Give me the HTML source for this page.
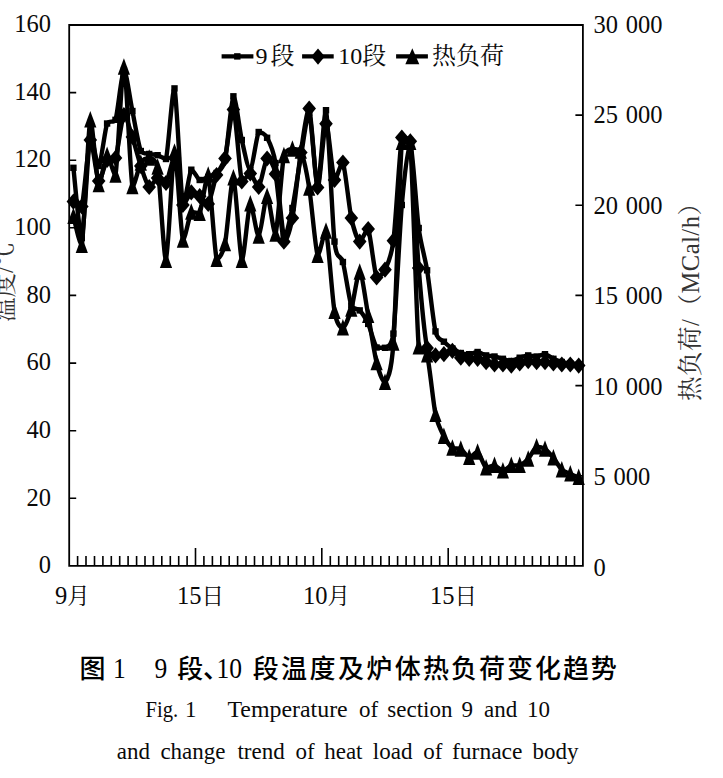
<!DOCTYPE html>
<html lang="zh"><head><meta charset="utf-8"><title>图1 9段、10段温度及炉体热负荷变化趋势</title>
<style>html,body{margin:0;padding:0;background:#fff}body{width:723px;height:778px;overflow:hidden}svg{display:block}svg{font-family:'Liberation Serif','Noto Serif CJK SC',serif;fill:#0a0a0a}.cap{font-family:'Liberation Sans','Noto Sans CJK SC',sans-serif;font-weight:500;fill:#000}.ttl{fill:#333}</style></head><body>
<svg width="723" height="778" viewBox="0 0 723 778">
<rect width="723" height="778" fill="#fff"/>
<g stroke="#000" stroke-width="1.8" fill="none" stroke-linecap="square">
<path d="M69.2 25.0H582.9V565.9H69.2Z"/>
</g>
<g stroke="#000" stroke-width="1.6" fill="none">
<path d="M69.2 498.3h7M69.2 430.7h7M69.2 363.1h7M69.2 295.4h7M69.2 227.8h7M69.2 160.2h7M69.2 92.6h7M582.9 475.8h-7.5M582.9 385.6h-7.5M582.9 295.4h-7.5M582.9 205.3h-7.5M582.9 115.1h-7.5M77.6 565.9v-10M86.0 565.9v-10M94.5 565.9v-10M102.9 565.9v-10M111.3 565.9v-10M119.7 565.9v-10M128.1 565.9v-10M136.6 565.9v-10M145.0 565.9v-10M153.4 565.9v-10M161.8 565.9v-10M170.3 565.9v-10M178.7 565.9v-10M187.1 565.9v-10M195.5 565.9v-18M203.9 565.9v-10M212.4 565.9v-10M220.8 565.9v-10M229.2 565.9v-10M237.6 565.9v-10M246.0 565.9v-10M254.5 565.9v-10M262.9 565.9v-10M271.3 565.9v-10M279.7 565.9v-10M288.2 565.9v-10M296.6 565.9v-10M305.0 565.9v-10M313.4 565.9v-10M321.8 565.9v-18M330.3 565.9v-10M338.7 565.9v-10M347.1 565.9v-10M355.5 565.9v-10M363.9 565.9v-10M372.4 565.9v-10M380.8 565.9v-10M389.2 565.9v-10M397.6 565.9v-10M406.1 565.9v-10M414.5 565.9v-10M422.9 565.9v-10M431.3 565.9v-10M439.7 565.9v-10M448.2 565.9v-18M456.6 565.9v-10M465.0 565.9v-10M473.4 565.9v-10M481.8 565.9v-10M490.3 565.9v-10M498.7 565.9v-10M507.1 565.9v-10M515.5 565.9v-10M524.0 565.9v-10M532.4 565.9v-10M540.8 565.9v-10M549.2 565.9v-10M557.6 565.9v-10M566.1 565.9v-10M574.5 565.9v-10"/>
</g>
<g fill="none" stroke="#000" stroke-width="4.4" stroke-linejoin="round" stroke-linecap="round">
<path d="M73.4 167.8C74.5 177.2 79.6 238.0 81.8 238.0C84.1 233.6 88.0 144.6 90.3 135.0C92.5 135.0 96.4 166.0 98.7 166.0C100.9 164.5 104.9 129.7 107.1 123.5C109.3 119.8 113.3 123.5 115.5 119.8C117.8 112.7 121.7 71.2 123.9 70.0C126.2 70.0 130.1 100.2 132.4 111.0C134.6 121.8 138.5 145.3 140.8 151.0C143.0 154.0 147.0 153.4 149.2 154.0C151.4 154.6 155.4 154.5 157.6 155.2C159.9 155.9 163.8 159.0 166.0 159.0C168.3 150.1 172.2 88.4 174.5 88.4C176.7 94.5 180.6 194.2 182.9 205.0C185.1 205.0 189.1 173.0 191.3 169.7C193.6 169.7 197.5 179.0 199.7 180.0C202.0 180.0 205.9 177.9 208.2 177.0C210.4 176.1 214.3 175.3 216.6 173.0C218.8 170.7 222.7 170.2 225.0 160.0C227.2 149.8 231.2 99.0 233.4 96.3C235.7 96.3 239.6 130.2 241.8 140.0C244.1 149.8 248.0 170.0 250.3 170.0C252.5 168.9 256.4 136.3 258.7 132.0C260.9 132.0 264.9 133.7 267.1 137.8C269.3 141.9 273.3 149.9 275.5 163.0C277.8 176.1 281.7 230.0 283.9 236.0C286.2 236.0 290.1 218.5 292.4 208.0C294.6 197.5 298.5 169.7 300.8 157.0C303.0 144.3 307.0 113.0 309.2 113.0C311.5 116.9 315.4 186.0 317.6 186.0C319.9 185.6 323.8 110.2 326.0 110.2C328.3 117.6 332.2 221.4 334.5 241.6C336.7 261.8 340.6 253.5 342.9 262.0C345.1 270.5 349.1 299.0 351.3 305.5C353.6 310.4 357.5 307.9 359.7 310.4C362.0 312.9 365.9 319.0 368.2 323.9C370.4 328.8 374.3 344.3 376.6 347.5C378.8 347.8 382.8 347.8 385.0 347.8C387.2 345.9 391.2 347.8 393.4 333.6C395.7 314.6 399.6 230.4 401.8 205.0C404.1 179.6 408.0 143.0 410.3 143.0C412.5 146.1 416.4 211.0 418.7 228.0C420.9 245.0 424.9 256.5 427.1 270.3C429.4 284.1 433.3 321.9 435.5 331.4C437.8 340.9 441.7 339.4 443.9 341.7C446.2 344.0 450.1 347.0 452.4 348.5C454.6 350.0 458.5 352.2 460.8 353.0C463.0 353.8 467.0 354.2 469.2 354.2C471.5 354.1 475.4 352.0 477.6 352.0C479.9 352.2 483.8 354.8 486.1 355.4C488.3 356.0 492.2 356.0 494.5 356.5C496.7 357.0 500.7 358.2 502.9 358.8C505.1 359.4 509.1 361.0 511.3 361.0C513.6 360.9 517.5 358.4 519.7 357.7C522.0 357.0 525.9 355.6 528.2 355.4C530.4 355.4 534.3 356.5 536.6 356.5C538.8 356.3 542.8 354.2 545.0 354.2C547.2 354.5 551.2 357.8 553.4 358.8C555.7 359.8 559.6 361.4 561.8 362.0C564.1 362.6 568.0 363.1 570.3 363.4C572.5 363.7 577.6 364.4 578.7 364.5"/>
<path d="M73.4 201.6C74.5 202.3 79.6 206.5 81.8 206.5C84.1 198.3 88.0 143.4 90.3 140.0C92.5 140.0 96.4 178.3 98.7 181.0C100.9 181.0 104.9 163.1 107.1 160.0C109.3 158.0 113.3 160.0 115.5 158.0C117.8 152.0 121.7 117.8 123.9 115.0C126.2 115.0 130.1 130.2 132.4 137.0C134.6 143.8 138.5 159.3 140.8 166.0C143.0 172.7 147.0 185.4 149.2 187.0C151.4 187.0 155.4 178.5 157.6 178.0C159.9 178.0 163.8 183.0 166.0 183.0C168.3 180.3 172.2 158.0 174.5 158.0C176.7 160.9 180.6 200.4 182.9 205.0C185.1 205.0 189.1 193.5 191.3 192.3C193.6 192.3 197.5 194.7 199.7 196.2C202.0 197.7 205.9 203.9 208.2 203.9C210.4 201.1 214.3 181.1 216.6 175.0C218.8 168.9 222.7 167.1 225.0 158.4C227.2 149.7 231.2 109.5 233.4 109.5C235.7 112.6 239.6 173.0 241.8 181.5C244.1 181.5 248.0 173.5 250.3 173.5C252.5 174.2 256.4 187.0 258.7 187.0C260.9 185.0 264.9 160.2 267.1 158.5C269.3 158.5 273.3 162.9 275.5 174.0C277.8 185.1 281.7 235.8 283.9 241.7C286.2 241.7 290.1 229.9 292.4 218.0C294.6 206.1 298.5 167.1 300.8 152.5C303.0 137.9 307.0 108.6 309.2 108.6C311.5 113.3 315.4 185.5 317.6 187.5C319.9 187.5 323.8 124.7 326.0 123.7C328.3 123.7 332.2 174.7 334.5 179.9C336.7 179.9 340.6 162.5 342.9 162.5C345.1 167.6 349.1 207.5 351.3 218.0C353.6 228.5 357.5 240.1 359.7 241.6C362.0 241.6 365.9 229.0 368.2 229.0C370.4 233.8 374.3 272.1 376.6 277.5C378.8 277.5 382.8 274.6 385.0 269.7C387.2 264.8 391.2 258.3 393.4 240.7C395.7 223.1 399.6 150.8 401.8 137.5C404.1 137.5 408.0 137.5 410.3 141.3C412.5 158.7 416.4 240.4 418.7 268.0C420.9 295.6 424.9 336.3 427.1 348.0C429.4 355.4 433.3 354.6 435.5 355.4C437.8 355.4 441.7 354.8 443.9 354.2C446.2 353.6 450.1 350.8 452.4 350.8C454.6 351.3 458.5 356.6 460.8 357.7C463.0 358.8 467.0 358.7 469.2 358.8C471.5 358.8 475.4 358.8 477.6 358.8C479.9 359.3 483.8 361.4 486.1 362.2C488.3 363.0 492.2 364.2 494.5 364.5C496.7 364.5 500.7 364.5 502.9 364.5C505.1 364.6 509.1 365.6 511.3 365.6C513.6 365.5 517.5 364.0 519.7 363.4C522.0 362.8 525.9 361.3 528.2 361.1C530.4 361.1 534.3 362.1 536.6 362.2C538.8 362.2 542.8 362.2 545.0 362.2C547.2 362.4 551.2 363.1 553.4 363.4C555.7 363.7 559.6 364.4 561.8 364.5C564.1 364.5 568.0 364.5 570.3 364.5C572.5 364.6 577.6 365.5 578.7 365.6"/>
<path d="M73.4 216.2C74.5 220.1 79.6 245.2 81.8 245.2C84.1 232.3 88.0 127.9 90.3 119.8C92.5 119.8 96.4 179.8 98.7 184.5C100.9 184.5 104.9 156.5 107.1 155.2C109.3 155.2 113.3 174.9 115.5 174.9C117.8 163.1 121.7 67.0 123.9 67.0C126.2 68.5 130.1 173.7 132.4 186.5C134.6 186.5 138.5 166.8 140.8 163.0C143.0 159.2 147.0 158.0 149.2 158.0C151.4 158.5 155.4 158.0 157.6 167.0C159.9 180.6 163.8 260.1 166.0 260.1C168.3 258.1 172.2 154.7 174.5 152.0C176.7 152.0 180.6 232.0 182.9 240.0C185.1 240.0 189.1 215.6 191.3 212.0C193.6 212.0 197.5 213.3 199.7 213.3C202.0 208.4 205.9 175.0 208.2 175.0C210.4 181.1 214.3 250.0 216.6 259.1C218.8 259.1 222.7 254.5 225.0 243.6C227.2 232.7 231.2 177.7 233.4 177.7C235.7 179.9 239.6 256.6 241.8 260.1C244.1 260.1 248.0 207.0 250.3 203.8C252.5 203.8 256.4 236.0 258.7 236.0C260.9 235.0 264.9 196.5 267.1 196.2C269.3 196.2 273.3 233.9 275.5 233.9C277.8 228.5 281.7 166.8 283.9 155.5C286.2 149.0 290.1 149.6 292.4 149.0C294.6 149.0 298.5 149.0 300.8 151.0C303.0 156.2 307.0 174.1 309.2 188.0C311.5 201.9 315.4 249.5 317.6 255.2C319.9 255.2 323.8 231.0 326.0 231.0C328.3 238.5 332.2 298.4 334.5 311.3C336.7 324.2 340.6 327.8 342.9 327.8C345.1 327.5 349.1 316.4 351.3 309.0C353.6 301.6 357.5 272.0 359.7 272.0C362.0 272.8 365.9 303.1 368.2 315.2C370.4 327.3 374.3 353.6 376.6 362.5C378.8 371.4 382.8 382.3 385.0 382.3C387.2 379.7 391.2 375.0 393.4 343.0C395.7 311.0 399.6 169.1 401.8 142.3C404.1 142.3 408.0 142.3 410.3 142.3C412.5 169.6 416.4 318.5 418.7 346.8C420.9 354.9 424.9 346.8 427.1 354.9C429.4 363.9 433.3 403.5 435.5 414.4C437.8 425.3 441.7 431.8 443.9 436.3C446.2 440.8 450.1 446.3 452.4 448.0C454.6 449.0 458.5 448.0 460.8 449.0C463.0 450.3 467.0 457.0 469.2 457.4C471.5 457.4 475.4 452.0 477.6 452.0C479.9 453.4 483.8 466.0 486.1 467.8C488.3 467.8 492.2 465.4 494.5 465.4C496.7 465.8 500.7 470.8 502.9 470.8C505.1 470.8 509.1 466.1 511.3 465.4C513.6 465.4 517.5 465.4 519.7 465.4C522.0 464.5 525.9 461.5 528.2 459.0C530.4 456.5 534.3 447.9 536.6 446.6C538.8 446.6 542.8 447.5 545.0 449.0C547.2 450.5 551.2 455.2 553.4 457.9C555.7 460.6 559.6 467.5 561.8 469.6C564.1 471.7 568.0 472.9 570.3 473.9C572.5 474.9 577.6 476.8 578.7 477.2"/>
<path stroke-linecap="butt" d="M221.6 56.4H253.4M302.1 56.4H333.7M396.1 56.4H427.9"/>
</g>
<g fill="#000">
<rect x="70.2" y="164.6" width="6.4" height="6.4"/>
<rect x="78.6" y="234.8" width="6.4" height="6.4"/>
<rect x="87.1" y="131.8" width="6.4" height="6.4"/>
<rect x="95.5" y="162.8" width="6.4" height="6.4"/>
<rect x="103.9" y="120.3" width="6.4" height="6.4"/>
<rect x="112.3" y="116.6" width="6.4" height="6.4"/>
<rect x="120.7" y="66.8" width="6.4" height="6.4"/>
<rect x="129.2" y="107.8" width="6.4" height="6.4"/>
<rect x="137.6" y="147.8" width="6.4" height="6.4"/>
<rect x="146.0" y="150.8" width="6.4" height="6.4"/>
<rect x="154.4" y="152.0" width="6.4" height="6.4"/>
<rect x="162.8" y="155.8" width="6.4" height="6.4"/>
<rect x="171.3" y="85.2" width="6.4" height="6.4"/>
<rect x="179.7" y="201.8" width="6.4" height="6.4"/>
<rect x="188.1" y="166.5" width="6.4" height="6.4"/>
<rect x="196.5" y="176.8" width="6.4" height="6.4"/>
<rect x="205.0" y="173.8" width="6.4" height="6.4"/>
<rect x="213.4" y="169.8" width="6.4" height="6.4"/>
<rect x="221.8" y="156.8" width="6.4" height="6.4"/>
<rect x="230.2" y="93.1" width="6.4" height="6.4"/>
<rect x="238.6" y="136.8" width="6.4" height="6.4"/>
<rect x="247.1" y="166.8" width="6.4" height="6.4"/>
<rect x="255.5" y="128.8" width="6.4" height="6.4"/>
<rect x="263.9" y="134.6" width="6.4" height="6.4"/>
<rect x="272.3" y="159.8" width="6.4" height="6.4"/>
<rect x="280.7" y="232.8" width="6.4" height="6.4"/>
<rect x="289.2" y="204.8" width="6.4" height="6.4"/>
<rect x="297.6" y="153.8" width="6.4" height="6.4"/>
<rect x="306.0" y="109.8" width="6.4" height="6.4"/>
<rect x="314.4" y="182.8" width="6.4" height="6.4"/>
<rect x="322.8" y="107.0" width="6.4" height="6.4"/>
<rect x="331.3" y="238.4" width="6.4" height="6.4"/>
<rect x="339.7" y="258.8" width="6.4" height="6.4"/>
<rect x="348.1" y="302.3" width="6.4" height="6.4"/>
<rect x="356.5" y="307.2" width="6.4" height="6.4"/>
<rect x="365.0" y="320.7" width="6.4" height="6.4"/>
<rect x="373.4" y="344.3" width="6.4" height="6.4"/>
<rect x="381.8" y="344.6" width="6.4" height="6.4"/>
<rect x="390.2" y="330.4" width="6.4" height="6.4"/>
<rect x="398.6" y="201.8" width="6.4" height="6.4"/>
<rect x="407.1" y="139.8" width="6.4" height="6.4"/>
<rect x="415.5" y="224.8" width="6.4" height="6.4"/>
<rect x="423.9" y="267.1" width="6.4" height="6.4"/>
<rect x="432.3" y="328.2" width="6.4" height="6.4"/>
<rect x="440.7" y="338.5" width="6.4" height="6.4"/>
<rect x="449.2" y="345.3" width="6.4" height="6.4"/>
<rect x="457.6" y="349.8" width="6.4" height="6.4"/>
<rect x="466.0" y="351.0" width="6.4" height="6.4"/>
<rect x="474.4" y="348.8" width="6.4" height="6.4"/>
<rect x="482.9" y="352.2" width="6.4" height="6.4"/>
<rect x="491.3" y="353.3" width="6.4" height="6.4"/>
<rect x="499.7" y="355.6" width="6.4" height="6.4"/>
<rect x="508.1" y="357.8" width="6.4" height="6.4"/>
<rect x="516.5" y="354.5" width="6.4" height="6.4"/>
<rect x="525.0" y="352.2" width="6.4" height="6.4"/>
<rect x="533.4" y="353.3" width="6.4" height="6.4"/>
<rect x="541.8" y="351.0" width="6.4" height="6.4"/>
<rect x="550.2" y="355.6" width="6.4" height="6.4"/>
<rect x="558.6" y="358.8" width="6.4" height="6.4"/>
<rect x="567.1" y="360.2" width="6.4" height="6.4"/>
<rect x="575.5" y="361.3" width="6.4" height="6.4"/>
<path d="M73.4 193.5L80.2 201.6L73.4 209.7L66.6 201.6Z"/>
<path d="M81.8 198.4L88.6 206.5L81.8 214.6L75.0 206.5Z"/>
<path d="M90.3 131.9L97.1 140.0L90.3 148.1L83.5 140.0Z"/>
<path d="M98.7 172.9L105.5 181.0L98.7 189.1L91.9 181.0Z"/>
<path d="M107.1 151.9L113.9 160.0L107.1 168.1L100.3 160.0Z"/>
<path d="M115.5 149.9L122.3 158.0L115.5 166.1L108.7 158.0Z"/>
<path d="M123.9 106.9L130.7 115.0L123.9 123.1L117.1 115.0Z"/>
<path d="M132.4 128.9L139.2 137.0L132.4 145.1L125.6 137.0Z"/>
<path d="M140.8 157.9L147.6 166.0L140.8 174.1L134.0 166.0Z"/>
<path d="M149.2 178.9L156.0 187.0L149.2 195.1L142.4 187.0Z"/>
<path d="M157.6 169.9L164.4 178.0L157.6 186.1L150.8 178.0Z"/>
<path d="M166.0 174.9L172.8 183.0L166.0 191.1L159.2 183.0Z"/>
<path d="M174.5 149.9L181.3 158.0L174.5 166.1L167.7 158.0Z"/>
<path d="M182.9 196.9L189.7 205.0L182.9 213.1L176.1 205.0Z"/>
<path d="M191.3 184.2L198.1 192.3L191.3 200.4L184.5 192.3Z"/>
<path d="M199.7 188.1L206.5 196.2L199.7 204.3L192.9 196.2Z"/>
<path d="M208.2 195.8L215.0 203.9L208.2 212.0L201.4 203.9Z"/>
<path d="M216.6 166.9L223.4 175.0L216.6 183.1L209.8 175.0Z"/>
<path d="M225.0 150.3L231.8 158.4L225.0 166.5L218.2 158.4Z"/>
<path d="M233.4 101.4L240.2 109.5L233.4 117.6L226.6 109.5Z"/>
<path d="M241.8 173.4L248.6 181.5L241.8 189.6L235.0 181.5Z"/>
<path d="M250.3 165.4L257.1 173.5L250.3 181.6L243.5 173.5Z"/>
<path d="M258.7 178.9L265.5 187.0L258.7 195.1L251.9 187.0Z"/>
<path d="M267.1 150.4L273.9 158.5L267.1 166.6L260.3 158.5Z"/>
<path d="M275.5 165.9L282.3 174.0L275.5 182.1L268.7 174.0Z"/>
<path d="M283.9 233.6L290.7 241.7L283.9 249.8L277.1 241.7Z"/>
<path d="M292.4 209.9L299.2 218.0L292.4 226.1L285.6 218.0Z"/>
<path d="M300.8 144.4L307.6 152.5L300.8 160.6L294.0 152.5Z"/>
<path d="M309.2 100.5L316.0 108.6L309.2 116.7L302.4 108.6Z"/>
<path d="M317.6 179.4L324.4 187.5L317.6 195.6L310.8 187.5Z"/>
<path d="M326.0 115.6L332.8 123.7L326.0 131.8L319.2 123.7Z"/>
<path d="M334.5 171.8L341.3 179.9L334.5 188.0L327.7 179.9Z"/>
<path d="M342.9 154.4L349.7 162.5L342.9 170.6L336.1 162.5Z"/>
<path d="M351.3 209.9L358.1 218.0L351.3 226.1L344.5 218.0Z"/>
<path d="M359.7 233.5L366.5 241.6L359.7 249.7L352.9 241.6Z"/>
<path d="M368.2 220.9L375.0 229.0L368.2 237.1L361.4 229.0Z"/>
<path d="M376.6 269.4L383.4 277.5L376.6 285.6L369.8 277.5Z"/>
<path d="M385.0 261.6L391.8 269.7L385.0 277.8L378.2 269.7Z"/>
<path d="M393.4 232.6L400.2 240.7L393.4 248.8L386.6 240.7Z"/>
<path d="M401.8 129.4L408.6 137.5L401.8 145.6L395.0 137.5Z"/>
<path d="M410.3 133.2L417.1 141.3L410.3 149.4L403.5 141.3Z"/>
<path d="M418.7 259.9L425.5 268.0L418.7 276.1L411.9 268.0Z"/>
<path d="M427.1 339.9L433.9 348.0L427.1 356.1L420.3 348.0Z"/>
<path d="M435.5 347.3L442.3 355.4L435.5 363.5L428.7 355.4Z"/>
<path d="M443.9 346.1L450.7 354.2L443.9 362.3L437.1 354.2Z"/>
<path d="M452.4 342.7L459.2 350.8L452.4 358.9L445.6 350.8Z"/>
<path d="M460.8 349.6L467.6 357.7L460.8 365.8L454.0 357.7Z"/>
<path d="M469.2 350.7L476.0 358.8L469.2 366.9L462.4 358.8Z"/>
<path d="M477.6 350.7L484.4 358.8L477.6 366.9L470.8 358.8Z"/>
<path d="M486.1 354.1L492.9 362.2L486.1 370.3L479.3 362.2Z"/>
<path d="M494.5 356.4L501.3 364.5L494.5 372.6L487.7 364.5Z"/>
<path d="M502.9 356.4L509.7 364.5L502.9 372.6L496.1 364.5Z"/>
<path d="M511.3 357.5L518.1 365.6L511.3 373.7L504.5 365.6Z"/>
<path d="M519.7 355.3L526.5 363.4L519.7 371.5L512.9 363.4Z"/>
<path d="M528.2 353.0L535.0 361.1L528.2 369.2L521.4 361.1Z"/>
<path d="M536.6 354.1L543.4 362.2L536.6 370.3L529.8 362.2Z"/>
<path d="M545.0 354.1L551.8 362.2L545.0 370.3L538.2 362.2Z"/>
<path d="M553.4 355.3L560.2 363.4L553.4 371.5L546.6 363.4Z"/>
<path d="M561.8 356.4L568.6 364.5L561.8 372.6L555.0 364.5Z"/>
<path d="M570.3 356.4L577.1 364.5L570.3 372.6L563.5 364.5Z"/>
<path d="M578.7 357.5L585.5 365.6L578.7 373.7L571.9 365.6Z"/>
<path d="M73.4 207.4L79.5 223.9L67.3 223.9Z"/>
<path d="M81.8 236.4L87.9 252.9L75.7 252.9Z"/>
<path d="M90.3 111.0L96.4 127.5L84.2 127.5Z"/>
<path d="M98.7 175.8L104.8 192.2L92.6 192.2Z"/>
<path d="M107.1 146.4L113.2 162.9L101.0 162.9Z"/>
<path d="M115.5 166.2L121.6 182.7L109.4 182.7Z"/>
<path d="M123.9 58.2L130.0 74.8L117.8 74.8Z"/>
<path d="M132.4 177.8L138.5 194.2L126.3 194.2Z"/>
<path d="M140.8 154.2L146.9 170.8L134.7 170.8Z"/>
<path d="M149.2 149.2L155.3 165.8L143.1 165.8Z"/>
<path d="M157.6 158.2L163.7 174.8L151.5 174.8Z"/>
<path d="M166.0 251.4L172.1 267.9L159.9 267.9Z"/>
<path d="M174.5 143.2L180.6 159.8L168.4 159.8Z"/>
<path d="M182.9 231.2L189.0 247.8L176.8 247.8Z"/>
<path d="M191.3 203.2L197.4 219.8L185.2 219.8Z"/>
<path d="M199.7 204.6L205.8 221.1L193.6 221.1Z"/>
<path d="M208.2 166.2L214.3 182.8L202.1 182.8Z"/>
<path d="M216.6 250.4L222.7 266.9L210.5 266.9Z"/>
<path d="M225.0 234.8L231.1 251.3L218.9 251.3Z"/>
<path d="M233.4 168.9L239.5 185.4L227.3 185.4Z"/>
<path d="M241.8 251.4L247.9 267.9L235.7 267.9Z"/>
<path d="M250.3 195.1L256.4 211.6L244.2 211.6Z"/>
<path d="M258.7 227.2L264.8 243.8L252.6 243.8Z"/>
<path d="M267.1 187.4L273.2 203.9L261.0 203.9Z"/>
<path d="M275.5 225.2L281.6 241.7L269.4 241.7Z"/>
<path d="M283.9 146.8L290.0 163.2L277.8 163.2Z"/>
<path d="M292.4 140.2L298.5 156.8L286.3 156.8Z"/>
<path d="M300.8 142.2L306.9 158.8L294.7 158.8Z"/>
<path d="M309.2 179.2L315.3 195.8L303.1 195.8Z"/>
<path d="M317.6 246.4L323.7 262.9L311.5 262.9Z"/>
<path d="M326.0 222.2L332.1 238.8L319.9 238.8Z"/>
<path d="M334.5 302.6L340.6 319.1L328.4 319.1Z"/>
<path d="M342.9 319.1L349.0 335.6L336.8 335.6Z"/>
<path d="M351.3 300.2L357.4 316.8L345.2 316.8Z"/>
<path d="M359.7 263.2L365.8 279.8L353.6 279.8Z"/>
<path d="M368.2 306.4L374.3 322.9L362.1 322.9Z"/>
<path d="M376.6 353.8L382.7 370.2L370.5 370.2Z"/>
<path d="M385.0 373.6L391.1 390.1L378.9 390.1Z"/>
<path d="M393.4 334.2L399.5 350.8L387.3 350.8Z"/>
<path d="M401.8 133.6L407.9 150.1L395.7 150.1Z"/>
<path d="M410.3 133.6L416.4 150.1L404.2 150.1Z"/>
<path d="M418.7 338.1L424.8 354.6L412.6 354.6Z"/>
<path d="M427.1 346.1L433.2 362.6L421.0 362.6Z"/>
<path d="M435.5 405.6L441.6 422.1L429.4 422.1Z"/>
<path d="M443.9 427.6L450.0 444.1L437.8 444.1Z"/>
<path d="M452.4 439.2L458.5 455.8L446.3 455.8Z"/>
<path d="M460.8 440.2L466.9 456.8L454.7 456.8Z"/>
<path d="M469.2 448.6L475.3 465.1L463.1 465.1Z"/>
<path d="M477.6 443.2L483.7 459.8L471.5 459.8Z"/>
<path d="M486.1 459.1L492.2 475.6L480.0 475.6Z"/>
<path d="M494.5 456.6L500.6 473.1L488.4 473.1Z"/>
<path d="M502.9 462.1L509.0 478.6L496.8 478.6Z"/>
<path d="M511.3 456.6L517.4 473.1L505.2 473.1Z"/>
<path d="M519.7 456.6L525.8 473.1L513.6 473.1Z"/>
<path d="M528.2 450.2L534.3 466.8L522.1 466.8Z"/>
<path d="M536.6 437.9L542.7 454.4L530.5 454.4Z"/>
<path d="M545.0 440.2L551.1 456.8L538.9 456.8Z"/>
<path d="M553.4 449.1L559.5 465.6L547.3 465.6Z"/>
<path d="M561.8 460.9L567.9 477.4L555.7 477.4Z"/>
<path d="M570.3 465.1L576.4 481.6L564.2 481.6Z"/>
<path d="M578.7 468.4L584.8 484.9L572.6 484.9Z"/>
<rect x="234.1" y="53.2" width="6.4" height="6.4"/>
<path d="M318.0 48.5L324.8 56.6L318.0 64.7L311.2 56.6Z"/>
<path d="M412.3 48.3L419.3 64.3L405.3 64.3Z"/>
</g>
<g font-size="24.5" text-anchor="end">
<text x="51" y="573.1">0</text>
<text x="51" y="505.5">20</text>
<text x="51" y="437.9">40</text>
<text x="51" y="370.3">60</text>
<text x="51" y="302.6">80</text>
<text x="51" y="235.0">100</text>
<text x="51" y="167.4">120</text>
<text x="51" y="99.8">140</text>
<text x="51" y="32.2">160</text>
</g>
<g font-size="24.5">
<text x="593.5" y="575.7" style="white-space:pre" word-spacing="1.5">0</text>
<text x="593.5" y="485.2" style="white-space:pre" word-spacing="1.5">5 000</text>
<text x="593.5" y="394.7" style="white-space:pre" word-spacing="1.5">10 000</text>
<text x="593.5" y="304.2" style="white-space:pre" word-spacing="1.5">15 000</text>
<text x="593.5" y="213.8" style="white-space:pre" word-spacing="1.5">20 000</text>
<text x="593.5" y="123.3" style="white-space:pre" word-spacing="1.5">25 000</text>
<text x="593.5" y="32.8" style="white-space:pre" word-spacing="1.5">30 000</text>
</g>
<g font-size="24.5">
<text x="55" y="604.4">9<tspan font-size="22.5">月</tspan></text>
<text x="177" y="604.4">15<tspan font-size="22.5">日</tspan></text>
<text x="303" y="604.4">10<tspan font-size="22.5">月</tspan></text>
<text x="430" y="604.4">15<tspan font-size="22.5">日</tspan></text>
</g>
<g font-size="24">
<text x="255.5" y="64">9<tspan dx="3">段</tspan></text>
<text x="338.2" y="64">10段</text>
<text x="432" y="64">热负荷</text>
</g>
<text class="ttl" font-size="24.5" transform="translate(12.5 322) rotate(-90)">温度/℃</text>
<text class="ttl" font-size="24.5" transform="translate(699 401) rotate(-90)" textLength="210" lengthAdjust="spacing">热负荷/（MCal/h）</text>
<g class="cap" font-size="26">
<text x="79.5" y="678">图</text>
<text x="177.3 203" y="678">段、</text>
<text x="252.7 281.1 309.5 337.9 366.3 394.7 423.1 451.1 479.0 507.0 534.9 562.9 590.8" y="678">段温度及炉体热负荷变化趋势</text>
</g>
<g font-size="25.5" fill="#000" transform="translate(0 677.5) scale(1 1.19)">
<text x="112.9" y="0">1</text><text x="154.6" y="0">9</text><text x="216.6" y="0">10</text>
</g>
<g font-size="23">
<text x="145.6" y="717.2" textLength="32.6" lengthAdjust="spacingAndGlyphs">Fig.</text>
<text x="185.0" y="717.2">1</text>
<text x="227.4" y="717.2" textLength="120.3" lengthAdjust="spacingAndGlyphs">Temperature</text>
<text x="358.9" y="717.2">of</text>
<text x="387.3" y="717.2">section</text>
<text x="461.5" y="717.2">9</text>
<text x="484.0" y="717.2">and</text>
<text x="527.0" y="717.2">10</text>
</g>
<g font-size="23">
<text x="116.8" y="758.6">and</text>
<text x="160.4" y="758.6">change</text>
<text x="237.4" y="758.6">trend</text>
<text x="295.5" y="758.6">of</text>
<text x="324.2" y="758.6">heat</text>
<text x="372.8" y="758.6">load</text>
<text x="423.2" y="758.6">of</text>
<text x="452.0" y="758.6" textLength="70.5" lengthAdjust="spacingAndGlyphs">furnace</text>
<text x="532.6" y="758.6">body</text>
</g>
</svg></body></html>
